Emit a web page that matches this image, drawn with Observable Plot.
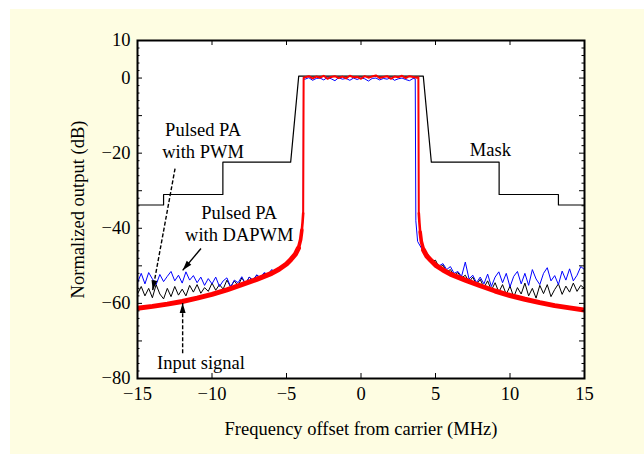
<!DOCTYPE html>
<html><head><meta charset="utf-8">
<script src="https://cdn.jsdelivr.net/npm/d3@7"></script>
<script src="https://cdn.jsdelivr.net/npm/@observablehq/plot@0.6"></script>
<style>
html,body{margin:0;padding:0;background:#fff;overflow:hidden;}
#chart{position:absolute;left:10px;top:9px;width:634px;height:445px;background:#fefde2;}
#chart svg{display:block;}
</style></head><body><div id="chart"></div>
<script>
// ---- data ----
const xTicks = [-15, -10, -5, 0, 5, 10, 15];
const yTicks = [10, 0, -10, -20, -30, -40, -50, -60, -70, -80];
const yTickLabels = [10, 0, -20, -40, -60, -80];

const maskFreq  = [-15, -13.25, -13.25, -9.27, -9.27, -4.72, -4.18, 4.18, 4.72, 9.27, 9.27, 13.25, 13.25, 15];
const maskLevel = [-33.8, -33.8, -31.0, -31.0, -22.4, -22.4, 0.5, 0.5, -22.4, -22.4, -31.0, -31.0, -33.8, -33.8];

// red (input signal) skirts, right side freq; left side uses the negated freq
const skirtFreq      = [3.88, 3.92, 3.97, 4.05, 4.2, 4.4, 4.7, 5.0, 5.5, 6.0, 7.0, 8.0, 9.0, 10.0, 11.0, 12.0, 13.0, 14.0, 15.0];
const redSkirtRight  = [-36, -38.5, -41.0, -43.5, -45.8, -47.3, -48.6, -49.8, -51.1, -52.2, -53.8, -55.3, -56.7, -57.9, -58.9, -59.8, -60.6, -61.2, -61.8];
const redSkirtLeft   = [-36, -38.3, -40.5, -43.0, -45.3, -46.9, -48.3, -49.5, -50.9, -52.0, -53.6, -55.0, -56.4, -57.6, -58.6, -59.5, -60.2, -60.8, -61.3];

// in-band
const inbandFreq = [-3.75, -3.5, -3.25, -3, -2.75, -2.5, -2.25, -2, -1.75, -1.5, -1.25, -1, -0.75, -0.5, -0.25, 0, 0.25, 0.5, 0.75, 1, 1.25, 1.5, 1.75, 2, 2.25, 2.5, 2.75, 3, 3.25, 3.5, 3.75];
const redInband  = [0.2, 0.5, -0.1, 0.4, 0.1, 0.6, -0.2, 0.3, 0.5, 0.0, 0.4, -0.1, 0.6, 0.2, 0.3, -0.2, 0.5, 0.1, 0.4, 0.7, 0.0, 0.3, 0.5, -0.2, 0.4, 0.2, 0.6, 0.0, 0.5, 0.3, 0.1];
const redEdgeFreq  = [-3.88, -3.85, 3.85, 3.88];
const redEdgeLevel = [-36, 0.1, 0.2, -36];

const blueInband = [-0.3, 0.1, -0.6, -0.1, 0.0, -0.5, 0.2, -0.2, -0.7, 0.1, -0.3, -0.1, -0.6, 0.0, -0.4, 0.1, -0.2, -0.8, -0.1, 0.0, -0.5, -0.1, -0.3, 0.1, -0.6, -0.2, 0.0, -0.4, -0.7, -0.1];
const blueEdgeLeftFreq   = [-4.2, -3.95, -3.88, -3.86];
const blueEdgeLeftLevel  = [-45.8, -40.5, -36, -0.3];
const blueEdgeRightFreq  = [3.64, 3.68, 3.8, 4.2];
const blueEdgeRightLevel = [-0.2, -38, -43.5, -46.3];

// noise floors: right side at noiseFreq, left side at -noiseFreq (listed from -15 upward)
const noiseFreq = [4.5, 4.75, 5, 5.25, 5.5, 5.75, 6, 6.25, 6.5, 6.75, 7, 7.25, 7.5, 7.75, 8, 8.25, 8.5, 8.75, 9, 9.25, 9.5, 9.75, 10, 10.25, 10.5, 10.75, 11, 11.25, 11.5, 11.75, 12, 12.25, 12.5, 12.75, 13, 13.25, 13.5, 13.75, 14, 14.25, 14.5, 14.75, 15];
const blackLeft  = [-57.5,-55.5,-58.0,-56.0,-58.5,-55.0,-57.5,-58.8,-56.0,-58.2,-55.5,-57.8,-56.2,-58.0,-55.2,-57.0,-55.0,-57.3,-55.8,-56.8,-54.6,-56.5,-55.0,-56.2,-53.8,-55.6,-54.0,-55.3,-53.2,-54.8,-53.0,-54.0,-52.5,-53.4,-52.0,-52.6,-51.3,-51.8,-50.5,-50.3,-49.5,-48.6,-47.5];
const blueLeft   = [-54.5,-52.0,-54.8,-51.8,-53.5,-55.0,-52.3,-54.2,-52.8,-51.5,-54.0,-52.5,-54.6,-51.6,-53.8,-52.6,-54.5,-53.0,-55.2,-53.4,-54.8,-53.0,-55.5,-54.0,-53.2,-55.6,-53.8,-54.5,-52.9,-54.8,-53.0,-53.8,-52.4,-53.1,-51.8,-52.3,-51.0,-51.6,-50.3,-50.0,-49.3,-48.4,-47.3];
const blackRight = [-47.0,-48.8,-48.5,-50.5,-49.8,-51.6,-51.0,-52.6,-51.8,-53.2,-52.5,-54.3,-53.0,-55.0,-53.6,-55.8,-54.0,-56.5,-54.5,-57.0,-55.0,-57.6,-55.4,-58.3,-55.8,-57.5,-54.6,-58.0,-56.0,-58.6,-55.2,-57.4,-55.0,-58.2,-56.3,-54.8,-57.6,-55.4,-57.0,-54.6,-56.8,-55.2,-56.0];
const blueRight  = [-47.2,-48.5,-49.2,-50.0,-49.4,-51.0,-50.2,-52.0,-51.5,-52.8,-49.0,-53.5,-52.5,-54.5,-53.0,-54.8,-52.2,-55.5,-53.0,-51.6,-54.5,-52.0,-55.6,-52.8,-51.5,-54.8,-52.0,-55.2,-51.0,-53.5,-55.0,-52.0,-50.5,-54.0,-52.6,-55.0,-51.4,-53.8,-50.8,-54.0,-52.5,-50.2,-51.0];

// annotations
const noteText = ["Pulsed PA\nwith PWM", "Pulsed PA\nwith DAPWM", "Input signal", "Mask"];
const noteX = [-10.6, -8.17, -10.74, 8.68];
const noteY = [-16.35, -38.5, -75.6, -19.0];
const arrowStartX = [-12.48, -10.74, -11.97];
const arrowStartY = [-24.1, -45.4, -73.3];
const arrowEndX   = [-13.98, -11.97, -11.97];
const arrowEndY   = [-56.5, -51.2, -59.9];
const arrowDashed = [true, false, true];

// ---- build tables ----
const W = 634, H = 445, mL = 127, mR = 60, mT = 31, mB = 76;
const plotW = W - mL - mR, plotH = H - mT - mB;
const xDom = [-15, 15], yDom = [-80, 10];
const kx = plotW / (xDom[1] - xDom[0]), ky = plotH / (yDom[1] - yDom[0]);

const pts = (fs, vs) => fs.map((f, i) => ({f, v: vs[i]}));
const leftFreq = noiseFreq.map(f => -f).reverse();
const leftSkirtFreq = skirtFreq.map(f => -f);

const mask = pts(maskFreq, maskLevel);
const redLeft = pts(leftSkirtFreq, redSkirtLeft);
const redRight = pts(skirtFreq, redSkirtRight);
const redCore = [
  ...pts(redEdgeFreq.slice(0, 2), redEdgeLevel.slice(0, 2)),
  ...pts(inbandFreq, redInband),
  ...pts(redEdgeFreq.slice(2), redEdgeLevel.slice(2))
];
const blueTrace = [
  ...pts(leftFreq, blueLeft),
  ...pts(blueEdgeLeftFreq, blueEdgeLeftLevel),
  ...pts(inbandFreq.slice(0, blueInband.length), blueInband),
  ...pts(blueEdgeRightFreq, blueEdgeRightLevel),
  ...pts(noiseFreq, blueRight)
];
const blackL = pts(leftFreq, blackLeft);
const blackR = pts(noiseFreq, blackRight);

const notes = noteText.map((t, i) => ({t, x: noteX[i], y: noteY[i]}));
const arrows = arrowStartX.map((sx, i) => {
  const dx = (arrowEndX[i] - sx) * kx, dy = -(arrowEndY[i] - arrowStartY[i]) * ky;
  return {sx, sy: arrowStartY[i], ex: arrowEndX[i], ey: arrowEndY[i], dashed: arrowDashed[i],
          angle: Math.atan2(dx, -dy) * 180 / Math.PI};
});

const head = {draw(ctx, size) { const L = Math.sqrt(size); const w = L * 0.3;
  ctx.moveTo(0, 0); ctx.lineTo(w, L); ctx.lineTo(-w, L); ctx.closePath(); }};

const fmt = d => d < 0 ? "\u2212" + (-d) : String(d);
const yMinor = d3.range(-78, 10, 2).filter(v => v % 10 !== 0);
const FONT = "Liberation Serif, Times New Roman, serif";
const redLine = (data, w) => Plot.line(data, {x: "f", y: "v", stroke: "#ff0000", strokeWidth: w, clip: true});

const chart = Plot.plot({
  width: W, height: H,
  marginLeft: mL, marginRight: mR, marginTop: mT, marginBottom: mB,
  x: {domain: xDom, axis: null},
  y: {domain: yDom, axis: null},
  style: {fontFamily: FONT, fontSize: "18.5px", background: "transparent", color: "black", overflow: "visible"},
  marks: [
    Plot.frame({fill: "white", stroke: "none"}),
    Plot.line(mask, {x: "f", y: "v", stroke: "black", strokeWidth: 1.2, clip: true}),
    Plot.line(blackL, {x: "f", y: "v", stroke: "black", strokeWidth: 1, clip: true}),
    Plot.line(blackR, {x: "f", y: "v", stroke: "black", strokeWidth: 1, clip: true}),
    Plot.line(blueTrace, {x: "f", y: "v", stroke: "#0000ff", strokeWidth: 1, clip: true}),
    redLine(redCore, 2),
    redLine(redLeft.slice(0, 3), 2.6),
    redLine(redLeft.slice(2, 5), 3.6),
    redLine(redLeft.slice(4), 5),
    redLine(redRight.slice(0, 3), 2.6),
    redLine(redRight.slice(2, 5), 3.6),
    redLine(redRight.slice(4), 5),
    // annotations
    Plot.text(notes, {x: "x", y: "y", text: "t", lineHeight: 1.19, fill: "black", fontSize: 18.5}),
    Plot.link(arrows.filter(d => d.dashed), {x1: "sx", y1: "sy", x2: "ex", y2: "ey", stroke: "black", strokeWidth: 1.4, strokeDasharray: "4,2"}),
    Plot.link(arrows.filter(d => !d.dashed), {x1: "sx", y1: "sy", x2: "ex", y2: "ey", stroke: "black", strokeWidth: 1.4}),
    Plot.dot(arrows, {x: "ex", y: "ey", symbol: head, r: 5.6, fill: "black", stroke: "none", rotate: "angle"}),
    // ticks (inward)
    Plot.ruleX(xTicks, {x: d => d, insetTop: plotH - 5, stroke: "black"}),
    Plot.ruleX(xTicks, {x: d => d, insetBottom: plotH - 5, stroke: "black"}),
    Plot.ruleY(yTicks, {y: d => d, insetRight: plotW - 5, stroke: "black"}),
    Plot.ruleY(yTicks, {y: d => d, insetLeft: plotW - 5, stroke: "black"}),
    Plot.ruleY(yMinor, {y: d => d, insetRight: plotW - 2.5, stroke: "black"}),
    Plot.ruleY(yMinor, {y: d => d, insetLeft: plotW - 2.5, stroke: "black"}),
    Plot.frame({stroke: "black", strokeWidth: 2}),
    // tick labels
    Plot.text(xTicks, {x: d => d, text: fmt, frameAnchor: "bottom", dy: 16, lineAnchor: "middle", fill: "black"}),
    Plot.text(yTickLabels, {y: d => d, text: fmt, frameAnchor: "left", dx: -7, textAnchor: "end", lineAnchor: "middle", fill: "black"}),
    // axis titles
    Plot.text(["Frequency offset from carrier (MHz)"], {text: d => d, frameAnchor: "bottom", dy: 51, textAnchor: "middle", lineAnchor: "middle", fill: "black"}),
    Plot.text(["Normalized output (dB)"], {text: d => d, frameAnchor: "left", dx: -59, rotate: -90, textAnchor: "middle", lineAnchor: "middle", fill: "black"})
  ]
});
document.getElementById("chart").appendChild(chart);
</script>
</body></html>
